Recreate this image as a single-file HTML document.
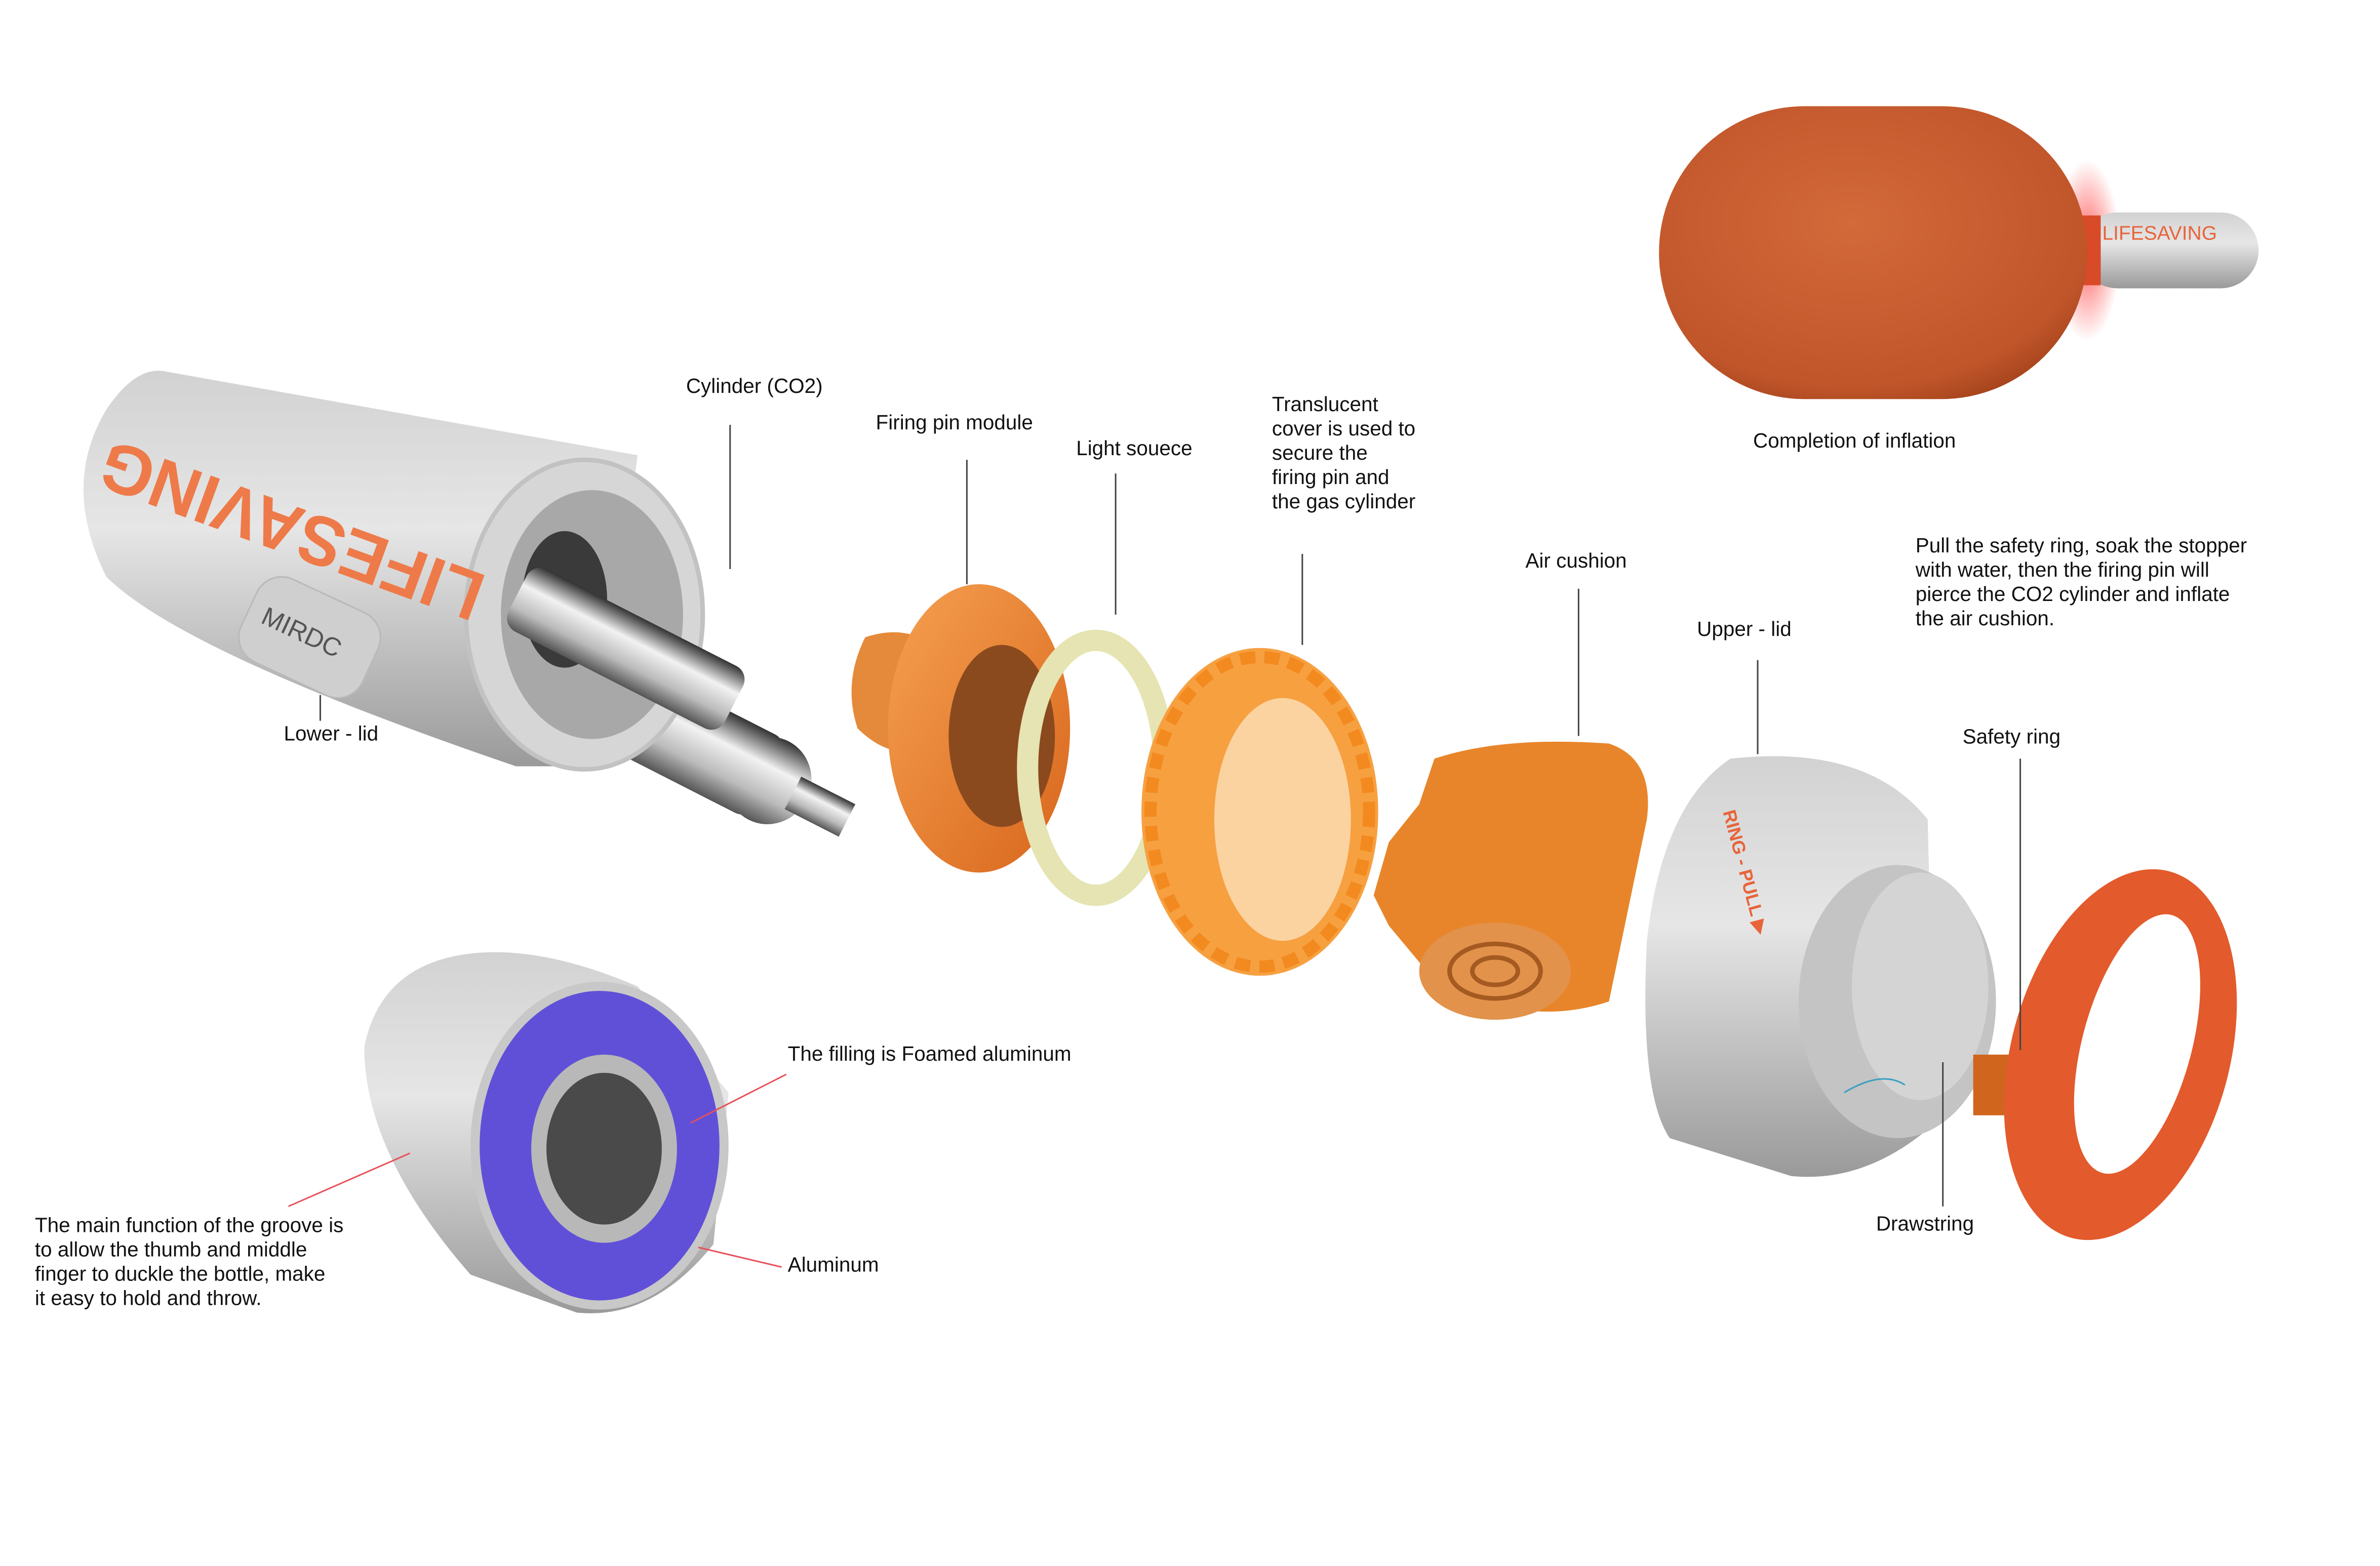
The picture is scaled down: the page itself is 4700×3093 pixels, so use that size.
<!DOCTYPE html>
<html><head><meta charset="utf-8"><style>
html,body{margin:0;padding:0;background:#fff;}
svg{display:block;}
text{font-family:"Liberation Sans",sans-serif;font-size:13.5px;fill:#111;}
</style></head><body>
<svg width="4700" height="3093" viewBox="0 0 1568 1032" preserveAspectRatio="none" xmlns="http://www.w3.org/2000/svg">
<defs>
<linearGradient id="silv" x1="0" y1="0" x2="0" y2="1"><stop offset="0" stop-color="#d2d2d2"/><stop offset="0.4" stop-color="#e6e6e6"/><stop offset="1" stop-color="#9a9a9a"/></linearGradient>
<linearGradient id="chrome" x1="0" y1="0" x2="0" y2="1"><stop offset="0" stop-color="#333"/><stop offset="0.35" stop-color="#f2f2f2"/><stop offset="0.7" stop-color="#bbb"/><stop offset="1" stop-color="#555"/></linearGradient>
<radialGradient id="ball" cx="0.45" cy="0.4" r="0.7"><stop offset="0" stop-color="#d36a3a"/><stop offset="0.8" stop-color="#c0552a"/><stop offset="1" stop-color="#9c3e18"/></radialGradient>
<linearGradient id="org" x1="0" y1="0" x2="1" y2="1"><stop offset="0" stop-color="#f6a050"/><stop offset="1" stop-color="#d8661c"/></linearGradient>
<radialGradient id="glow" cx="0.5" cy="0.5" r="0.5"><stop offset="0" stop-color="#ff3030" stop-opacity="0.8"/><stop offset="1" stop-color="#ff3030" stop-opacity="0"/></radialGradient>
</defs>
<rect width="1568" height="1032" fill="#fff"/>

<ellipse cx="1375" cy="165" rx="22" ry="60" fill="url(#glow)"/>
<rect x="1370" y="140" width="118" height="50" rx="25" fill="url(#silv)"/>
<rect x="1372" y="142" width="12" height="46" fill="#d84a28"/>
<text x="1385" y="158" style="font-size:13px;fill:#e8643a">LIFESAVING</text>
<rect x="1093" y="70" width="282" height="193" rx="96" fill="url(#ball)"/>
<text x="1155" y="295">Completion of inflation</text>

<g transform="rotate(27 330 420)">
<rect x="300" y="395" width="230" height="58" rx="10" fill="url(#chrome)"/>
<ellipse cx="530" cy="424" rx="28" ry="29" fill="url(#chrome)"/>
<rect x="548" y="412" width="40" height="24" fill="url(#chrome)"/>
</g>
<path d="M110,245 L420,300 L395,505 L340,505 Q120,430 70,380 Q40,320 70,270 Q90,240 110,245Z" fill="url(#silv)"/>
<ellipse cx="385" cy="405" rx="78" ry="102" fill="#d6d6d6" stroke="#c2c2c2" stroke-width="3"/>
<ellipse cx="390" cy="405" rx="60" ry="82" fill="#a8a8a8"/>
<ellipse cx="372" cy="395" rx="28" ry="45" fill="#3a3a3a"/>
<g transform="rotate(27 360 420)"><rect x="330" y="380" width="160" height="46" rx="10" fill="url(#chrome)"/></g>
<text x="0" y="0" transform="translate(322,380) rotate(200)" textLength="265" lengthAdjust="spacingAndGlyphs" style="font-size:46px;fill:#ee7a4a;font-weight:bold">LIFESAVING</text>
<rect x="160" y="390" width="88" height="60" rx="18" fill="#cfcfcf" stroke="#b9b9b9" transform="rotate(25 204 420)"/>
<text x="170" y="425" transform="rotate(25 204 420)" style="font-size:17px;fill:#555">MIRDC</text>
<line x1="211" y1="458" x2="211" y2="475" stroke="#444"/>
<text x="187" y="488">Lower - lid</text>

<path d="M570,420 Q600,410 620,430 L620,490 Q590,505 565,480 Q555,450 570,420Z" fill="#e58a3a"/>
<ellipse cx="645" cy="480" rx="60" ry="95" fill="url(#org)"/>
<ellipse cx="660" cy="485" rx="35" ry="60" fill="#8b4a1e"/>
<ellipse cx="722" cy="506" rx="45" ry="84" fill="none" stroke="#e6e4b2" stroke-width="14"/>
<ellipse cx="830" cy="535" rx="78" ry="108" fill="#f7a040"/>
<ellipse cx="845" cy="540" rx="45" ry="80" fill="#fbd3a0"/>
<ellipse cx="830" cy="535" rx="72" ry="102" fill="none" stroke="#f28a20" stroke-width="8" stroke-dasharray="10 6"/>
<path d="M945,500 Q990,485 1060,490 Q1090,500 1085,540 L1060,660 Q1000,680 940,640 L915,610 L905,590 L915,555 L935,530Z" fill="#e8852a"/>
<ellipse cx="985" cy="640" rx="50" ry="32" fill="#e2924a"/>
<ellipse cx="985" cy="640" rx="30" ry="18" fill="none" stroke="#a45a20" stroke-width="3"/>
<ellipse cx="985" cy="640" rx="15" ry="9" fill="none" stroke="#a45a20" stroke-width="3"/>

<path d="M1140,500 Q1230,490 1270,540 L1275,740 Q1230,780 1180,775 L1100,750 Q1080,720 1085,620 Q1095,530 1140,500Z" fill="url(#silv)"/>
<ellipse cx="1250" cy="660" rx="65" ry="90" fill="#c4c4c4"/>
<ellipse cx="1265" cy="650" rx="45" ry="75" fill="#d4d4d4"/>
<text x="0" y="0" transform="translate(1135,535) rotate(75)" style="font-size:12px;fill:#e8643a;font-weight:bold">RING - PULL ▶</text>
<rect x="1300" y="695" width="40" height="40" fill="#d0661e"/>
<ellipse cx="1397" cy="695" rx="72" ry="125" fill="#e35a2c" transform="rotate(15 1397 695)"/>
<ellipse cx="1408" cy="688" rx="36" ry="88" fill="#fff" transform="rotate(15 1408 688)"/>
<path d="M1215,720 Q1240,705 1255,715" stroke="#3aa0c0" fill="none"/>

<path d="M300,630 Q350,620 420,650 L480,720 L470,820 Q430,870 380,865 L310,840 Q240,760 240,690 Q250,640 300,630Z" fill="url(#silv)"/>
<ellipse cx="395" cy="755" rx="82" ry="105" fill="#6050d8" stroke="#c8c8c8" stroke-width="6"/>
<ellipse cx="398" cy="757" rx="48" ry="62" fill="#b8b8b8"/>
<ellipse cx="398" cy="757" rx="38" ry="50" fill="#4a4a4a"/>

<g stroke="#444" stroke-width="1">
<line x1="481" y1="280" x2="481" y2="375"/>
<line x1="637" y1="303" x2="637" y2="385"/>
<line x1="735" y1="312" x2="735" y2="405"/>
<line x1="858" y1="365" x2="858" y2="425"/>
<line x1="1040" y1="388" x2="1040" y2="485"/>
<line x1="1158" y1="435" x2="1158" y2="497"/>
<line x1="1331" y1="500" x2="1331" y2="692"/>
<line x1="1280" y1="700" x2="1280" y2="795"/>
</g>
<g stroke="#e8505a" stroke-width="1">
<line x1="518" y1="708" x2="455" y2="740"/>
<line x1="515" y1="835" x2="460" y2="822"/>
<line x1="190" y1="795" x2="270" y2="760"/>
</g>

<text x="452" y="259">Cylinder (CO2)</text>
<text x="577" y="283">Firing pin module</text>
<text x="709" y="300">Light souece</text>
<text x="838" y="271">Translucent</text>
<text x="838" y="287">cover is used to</text>
<text x="838" y="303">secure the</text>
<text x="838" y="319">firing pin and</text>
<text x="838" y="335">the gas cylinder</text>
<text x="1005" y="374">Air cushion</text>
<text x="1118" y="419">Upper - lid</text>
<text x="1262" y="364">Pull the safety ring, soak the stopper</text>
<text x="1262" y="380">with water, then the firing pin will</text>
<text x="1262" y="396">pierce the CO2 cylinder and inflate</text>
<text x="1262" y="412">the air cushion.</text>
<text x="1293" y="490">Safety ring</text>
<text x="1236" y="811">Drawstring</text>
<text x="519" y="699">The filling is Foamed aluminum</text>
<text x="519" y="838">Aluminum</text>
<text x="23" y="812">The main function of the groove is</text>
<text x="23" y="828">to allow the thumb and middle</text>
<text x="23" y="844">finger to duckle the bottle, make</text>
<text x="23" y="860">it easy to hold and throw.</text>
</svg>
</body></html>
